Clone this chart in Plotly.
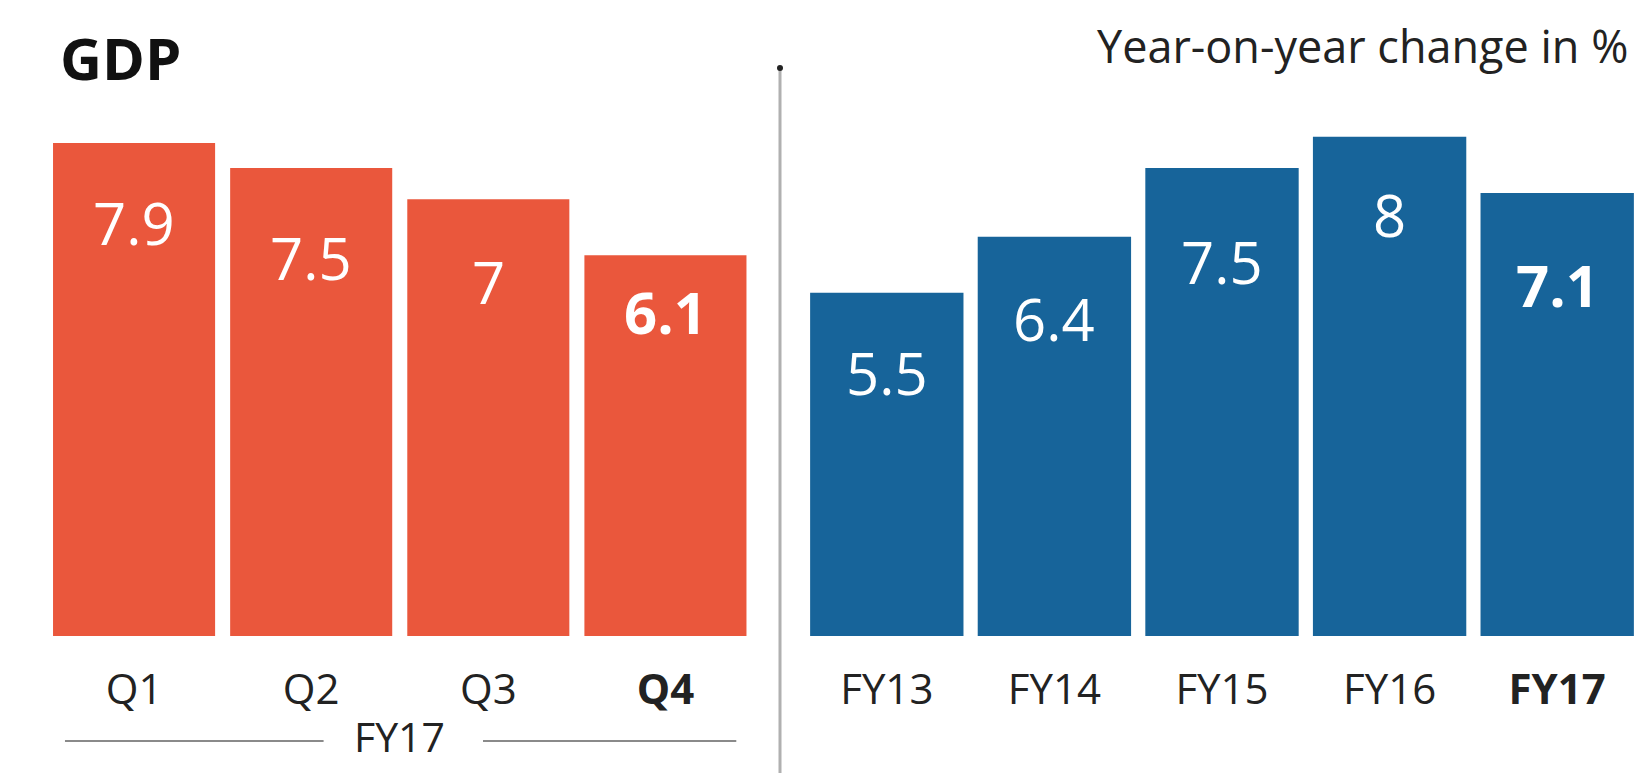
import plotly.graph_objects as go

# ---- data ----
quarters = ["Q1", "Q2", "Q3", "Q4"]
quarter_growth = [7.9, 7.5, 7.0, 6.1]
quarter_labels = ["7.9", "7.5", "7", "6.1"]
years = ["FY13", "FY14", "FY15", "FY16", "FY17"]
year_growth = [5.5, 6.4, 7.5, 8.0, 7.1]
year_labels = ["5.5", "6.4", "7.5", "8", "7.1"]
quarter_ticks = ["Q1", "Q2", "Q3", "<b>Q4</b>"]
year_ticks = ["FY13", "FY14", "FY15", "FY16", "<b>FY17</b>"]
group_label = "FY17"
title_text = "GDP"
subtitle_text = "Year-on-year change in %"

# ---- styling ----
ORANGE = "#EA573C"
BLUE = "#17649A"
W, H = 1648, 773
PLOT_BOTTOM = 636
PX_PER_UNIT = 62.4
FONT = "Open Sans"
quarter_label_drop = [79, 89, 82, 56]
year_label_drop = [80, 82, 93, 78, 92]

fig = go.Figure()
fig.add_trace(go.Bar(x=quarters, y=quarter_growth, marker=dict(color=ORANGE, line=dict(width=0)),
                     xaxis="x", yaxis="y", hoverinfo="skip"))
fig.add_trace(go.Bar(x=years, y=year_growth, marker=dict(color=BLUE, line=dict(width=0)),
                     xaxis="x2", yaxis="y2", hoverinfo="skip"))

annotations = []
last_q = len(quarters) - 1
for i, (q, v, t) in enumerate(zip(quarters, quarter_growth, quarter_labels)):
    bold = i == last_q
    annotations.append(dict(x=q, y=v, xref="x", yref="y", text=f"<b>{t}</b>" if bold else t,
                            showarrow=False, yanchor="middle", yshift=-quarter_label_drop[i],
                            font=dict(family=FONT, size=58, color="white", weight=700 if bold else 400)))
last_y = len(years) - 1
for i, (c, v, t) in enumerate(zip(years, year_growth, year_labels)):
    bold = i == last_y
    annotations.append(dict(x=c, y=v, xref="x2", yref="y2", text=f"<b>{t}</b>" if bold else t,
                            showarrow=False, yanchor="middle", yshift=-year_label_drop[i],
                            font=dict(family=FONT, size=58, color="white", weight=700 if bold else 400)))

def py(px):
    return (PLOT_BOTTOM - px) / PLOT_BOTTOM

annotations.append(dict(x=1.5, y=py(736), xref="x", yref="paper", text=group_label, showarrow=False,
                        yanchor="middle", font=dict(family=FONT, size=41, color="#222")))
annotations.append(dict(x=58 / W, y=py(58), xref="paper", yref="paper", text=f"<b>{title_text}</b>",
                        showarrow=False, xanchor="left", yanchor="middle",
                        font=dict(family=FONT, size=58, color="#111")))
annotations.append(dict(x=1630 / W, y=py(46), xref="paper", yref="paper", text=subtitle_text,
                        showarrow=False, xanchor="right", yanchor="middle",
                        font=dict(family=FONT, size=45, color="#222")))

shapes = [
    dict(type="line", xref="x", yref="paper", x0=-0.39, x1=1.07, y0=py(741), y1=py(741),
         line=dict(color="#8a8a8a", width=2)),
    dict(type="line", xref="x", yref="paper", x0=1.97, x1=3.40, y0=py(741), y1=py(741),
         line=dict(color="#8a8a8a", width=2)),
    dict(type="line", xref="paper", yref="paper", x0=780 / W, x1=780 / W, y0=py(70), y1=py(773),
         line=dict(color="#b0b0b0", width=3)),
    dict(type="circle", xref="paper", yref="paper", x0=777 / W, x1=783 / W, y0=py(65), y1=py(71),
         fillcolor="#222", line=dict(width=0)),
]

yr = [0, PLOT_BOTTOM / PX_PER_UNIT]
axis_common = dict(showgrid=False, zeroline=False, showline=False, ticks="", fixedrange=True)
fig.update_layout(
    width=W, height=H, margin=dict(l=0, r=0, t=0, b=H - PLOT_BOTTOM),
    paper_bgcolor="white", plot_bgcolor="white", showlegend=False,
    bargap=0.085,
    xaxis=dict(domain=[45.5 / W, 754 / W], anchor="y", tickmode="array", tickvals=quarters,
               ticktext=quarter_ticks, ticklabelstandoff=25,
               tickfont=dict(family=FONT, size=42, color="#222"), **axis_common),
    yaxis=dict(domain=[0, 1], range=yr, anchor="x", showticklabels=False, **axis_common),
    xaxis2=dict(domain=[803 / W, 1641 / W], anchor="y2", tickmode="array", tickvals=years,
                ticktext=year_ticks, ticklabelstandoff=25,
                tickfont=dict(family=FONT, size=42, color="#222"), **axis_common),
    yaxis2=dict(domain=[0, 1], range=yr, anchor="x2", showticklabels=False, **axis_common),
    annotations=annotations, shapes=shapes,
)
fig.write_html("out.html", config={"displayModeBar": False})
